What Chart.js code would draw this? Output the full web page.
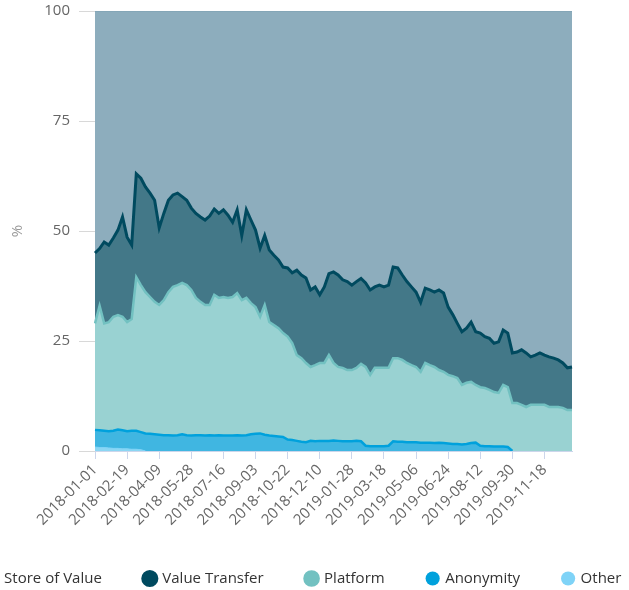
<!DOCTYPE html>
<html>

<head>
    <meta charset="utf-8" />
    <title>Share by category</title>
    <style>
        html, body { margin: 0; padding: 0; background: #fff; overflow: hidden; }
        /* canvas is wider than the window, like the clipped original */
        .wrap { position: absolute; left: -76px; top: 0; width: 760px; height: 590px; }
    </style>
</head>

<body>
    <div class="wrap"><canvas id="chart"></canvas></div>

    <script src="https://cdn.jsdelivr.net/npm/chart.js"></script>
    <script type="text/javascript">

        // weekly categories
        const weeks = [
            '2018-01-01', '2018-01-08', '2018-01-15', '2018-01-22', '2018-01-29', '2018-02-05', '2018-02-12',
            '2018-02-19', '2018-02-26', '2018-03-05', '2018-03-12', '2018-03-19', '2018-03-26', '2018-04-02',
            '2018-04-09', '2018-04-16', '2018-04-23', '2018-04-30', '2018-05-07', '2018-05-14', '2018-05-21',
            '2018-05-28', '2018-06-04', '2018-06-11', '2018-06-18', '2018-06-25', '2018-07-02', '2018-07-09',
            '2018-07-16', '2018-07-23', '2018-07-30', '2018-08-06', '2018-08-13', '2018-08-20', '2018-08-27',
            '2018-09-03', '2018-09-10', '2018-09-17', '2018-09-24', '2018-10-01', '2018-10-08', '2018-10-15',
            '2018-10-22', '2018-10-29', '2018-11-05', '2018-11-12', '2018-11-19', '2018-11-26', '2018-12-03',
            '2018-12-10', '2018-12-17', '2018-12-24', '2018-12-31', '2019-01-07', '2019-01-14', '2019-01-21',
            '2019-01-28', '2019-02-04', '2019-02-11', '2019-02-18', '2019-02-25', '2019-03-04', '2019-03-11',
            '2019-03-18', '2019-03-25', '2019-04-01', '2019-04-08', '2019-04-15', '2019-04-22', '2019-04-29',
            '2019-05-06', '2019-05-13', '2019-05-20', '2019-05-27', '2019-06-03', '2019-06-10', '2019-06-17',
            '2019-06-24', '2019-07-01', '2019-07-08', '2019-07-15', '2019-07-22', '2019-07-29', '2019-08-05',
            '2019-08-12', '2019-08-19', '2019-08-26', '2019-09-02', '2019-09-09', '2019-09-16', '2019-09-23',
            '2019-09-30', '2019-10-07', '2019-10-14', '2019-10-21', '2019-10-28', '2019-11-04', '2019-11-11',
            '2019-11-18', '2019-11-25', '2019-12-02', '2019-12-09', '2019-12-16', '2019-12-23', '2019-12-30'
        ];

        // labels shown under the x axis
        const tickLabels = [
            '2018-01-01', '2018-02-19', '2018-04-09', '2018-05-28', '2018-07-16', '2018-09-03', '2018-10-22',
            '2018-12-10', '2019-01-28', '2019-03-18', '2019-05-06', '2019-06-24', '2019-08-12', '2019-09-30',
            '2019-11-18'
        ];
        const yTicks = [0, 25, 50, 75, 100];

        // top edge of each band, in %
        const storeOfValue = [
            100, 100, 100, 100, 100, 100, 100, 100, 100, 100, 100, 100, 100, 100, 100,
            100, 100, 100, 100, 100, 100, 100, 100, 100, 100, 100, 100, 100, 100, 100,
            100, 100, 100, 100, 100, 100, 100, 100, 100, 100, 100, 100, 100, 100, 100,
            100, 100, 100, 100, 100, 100, 100, 100, 100, 100, 100, 100, 100, 100, 100,
            100, 100, 100, 100, 100, 100, 100, 100, 100, 100, 100, 100, 100, 100, 100,
            100, 100, 100, 100, 100, 100, 100, 100, 100, 100, 100, 100, 100, 100, 100,
            100, 100, 100, 100, 100, 100, 100, 100, 100, 100, 100, 100, 100, 100, 100
        ];
        const valueTransfer = [
            45, 46, 47.5, 46.8, 48.4, 50.2, 53.2, 48.6, 46.8, 63,
            62, 60, 58.6, 57, 50.7, 54, 57, 58.2, 58.6, 57.8,
            57, 55.2, 54, 53.2, 52.5, 53.4, 55, 54, 54.8, 53.6,
            52, 54.8, 49, 54.8, 52.5, 50.2, 46.1, 49, 45.7, 44.5,
            43.4, 41.8, 41.6, 40.5, 41.1, 40, 39.3, 36.6, 37.3, 35.5,
            37.3, 40.3, 40.7, 40, 38.9, 38.5, 37.7, 38.5, 39.2, 38.2,
            36.6, 37.3, 37.7, 37.3, 37.7, 41.8, 41.6, 40, 38.5, 37.3,
            36.1, 33.8, 37, 36.6, 36.1, 36.6, 35.9, 32.7, 31, 29,
            27.1, 27.9, 29.3, 27.1, 26.8, 26, 25.6, 24.5, 24.8, 27.5,
            26.8, 22.3, 22.5, 23, 22.3, 21.4, 21.8, 22.3, 21.8, 21.4,
            21.1, 20.7, 20, 18.9, 19.1
        ];
        const platform = [
            29, 33, 29, 29.3, 30.5, 30.9, 30.5, 29.3, 30, 39.5,
            37.7, 36.1, 35, 33.9, 33.2, 34.3, 36.1, 37.3, 37.7, 38.2,
            37.7, 36.6, 34.8, 33.9, 33.2, 33.2, 35.5, 34.8, 35, 34.8,
            35, 35.9, 34.3, 34.8, 33.6, 32.7, 30.5, 33.2, 29.3, 28.6,
            27.9, 26.8, 26, 24.5, 21.8, 21.1, 20, 19.1, 19.5, 20,
            20, 21.8, 20, 19.1, 18.9, 18.4, 18.4, 18.9, 19.8, 19.1,
            17.3, 18.9, 18.9, 18.9, 18.9, 21.1, 21.1, 20.7, 20, 19.5,
            19.1, 18, 20, 19.5, 19.1, 18.4, 18, 17.3, 17, 16.6,
            15, 15.5, 15.7, 15, 14.5, 14.3, 13.9, 13.4, 13.2, 15,
            14.5, 10.9, 10.9, 10.5, 10, 10.5, 10.5, 10.5, 10.5, 10,
            10, 10, 9.8, 9.3, 9.3
        ];
        const anonymity = [
            4.8, 4.7, 4.6, 4.5, 4.6, 4.9, 4.7, 4.5, 4.6, 4.6,
            4.3, 4.0, 3.9, 3.8, 3.7, 3.6, 3.6, 3.5, 3.6, 3.8,
            3.6, 3.5, 3.6, 3.6, 3.5, 3.6, 3.5, 3.6, 3.5, 3.5,
            3.5, 3.6, 3.5, 3.6, 3.8, 3.9, 4.0, 3.7, 3.5, 3.4,
            3.3, 3.2, 2.6, 2.5, 2.3, 2.1, 2.0, 2.3, 2.2, 2.3,
            2.3, 2.3, 2.4, 2.3, 2.2, 2.2, 2.2, 2.3, 2.2, 1.2,
            1.1, 1.1, 1.1, 1.1, 1.2, 2.2, 2.1, 2.1, 2.0, 2.0,
            2.0, 1.9, 1.9, 1.9, 1.8, 1.9, 1.8, 1.7, 1.6, 1.6,
            1.5, 1.6, 1.8, 1.9, 1.2, 1.1, 1.1, 1.0, 1.0, 1.0,
            0.9, 0, 0, 0, 0, 0, 0, 0, 0, 0,
            0, 0, 0, 0, 0
        ];
        const other = [
            0.9, 0.8, 0.8, 0.7, 0.6, 0.6, 0.5, 0.5, 0.4, 0.4,
            0.3, 0, 0, 0, 0, 0, 0, 0, 0, 0,
            0, 0, 0, 0, 0, 0, 0, 0, 0, 0,
            0, 0, 0, 0, 0, 0, 0, 0, 0, 0,
            0, 0, 0, 0, 0, 0, 0, 0, 0, 0,
            0, 0, 0, 0, 0, 0, 0, 0, 0, 0,
            0, 0, 0, 0, 0, 0, 0, 0, 0, 0,
            0, 0, 0, 0, 0, 0, 0, 0, 0, 0,
            0, 0, 0, 0, 0, 0, 0, 0, 0, 0,
            0, 0, 0, 0, 0, 0, 0, 0, 0, 0,
            0, 0, 0, 0, 0
        ];

        Chart.defaults.font.family = '"Open Sans", sans-serif';

        // one band: its top edge, filled down to the next band
        function band(label, data, line, area, width, target) {
            return {
                label: label,
                data: data,
                borderColor: line,
                backgroundColor: line,
                borderWidth: width,
                fill: { target: target, above: area, below: area },
                pointRadius: 0,
                pointHoverRadius: 0,
                tension: 0
            };
        }

        // edge line only, stopped where the band has run out
        function edge(data, line, width) {
            return {
                label: '',
                data: data.map((v, i) => (v === 0 && !(data[i - 1] > 0)) ? null : v),
                borderColor: line,
                borderWidth: width,
                fill: false,
                pointRadius: 0,
                pointHoverRadius: 0,
                tension: 0
            };
        }

        const ctx = document.getElementById('chart').getContext('2d');
        const myChart = new Chart(ctx, {
            type: 'line',
            data: {
                labels: weeks,
                datasets: [
                    band('Store of Value', storeOfValue, '#7c9fb2', '#8dadbd', 1, '+1'),
                    band('Value Transfer', valueTransfer, '#004a5f', '#437888', 3, '+1'),
                    band('Platform', platform, '#72c1c1', '#99d2d2', 2.5, '+1'),
                    band('Anonymity', anonymity, '#00a1dc', '#40b6e1', 0, '+1'),
                    band('Other', other, '#7fd3f7', '#8bd6f3', 0, 'origin'),
                    edge(anonymity, '#00a1dc', 2.5),
                    edge(other, '#7fd3f7', 1)
                ]
            },
            options: {
                responsive: true,
                maintainAspectRatio: false,
                animation: false,
                layout: { padding: { top: 11, left: 0, right: 0, bottom: 0 } },
                plugins: {
                    filler: { drawTime: 'beforeDatasetsDraw' },
                    tooltip: { enabled: false },
                    legend: {
                        position: 'bottom',
                        maxHeight: 62,
                        labels: {
                            usePointStyle: true,
                            pointStyle: 'circle',
                            boxWidth: 10,
                            boxHeight: 10,
                            padding: 43,
                            color: '#333',
                            font: { size: 15 },
                            filter: item => item.datasetIndex < 5
                        }
                    }
                },
                scales: {
                    x: {
                        ticks: {
                            autoSkip: false,
                            minRotation: 45,
                            maxRotation: 45,
                            color: '#666',
                            font: { size: 15 },
                            padding: 2,
                            callback: function (value) {
                                const lab = this.getLabelForValue(value);
                                return tickLabels.includes(lab) ? lab : null;
                            }
                        },
                        grid: { drawOnChartArea: false, tickLength: 8, color: '#ccd6eb' },
                        border: { color: '#ccd6eb' },
                        afterFit: s => { s.height = 77; }
                    },
                    y: {
                        min: 0,
                        max: 100,
                        afterBuildTicks: s => { s.ticks = yTicks.map(v => ({ value: v })); },
                        ticks: { color: '#666', font: { size: 15 }, padding: 9 },
                        grid: { drawOnChartArea: false, tickLength: 16, color: '#d8d8d8' },
                        border: { display: false },
                        title: {
                            display: true,
                            text: '%',
                            color: '#999',
                            font: { size: 15 },
                            padding: { top: 85, bottom: 0 }
                        },
                        afterFit: s => {
                            s.width = 171;
                            s.paddingTop = 0;
                        }
                    },
                    // empty axis that only keeps room on the right
                    yPad: {
                        position: 'right',
                        grid: { display: false },
                        ticks: { display: false },
                        border: { display: false },
                        afterFit: s => {
                            s.width = 112;
                            s.paddingTop = 0;
                        }
                    }
                }
            }
        });

    </script>

</body>

</html>
